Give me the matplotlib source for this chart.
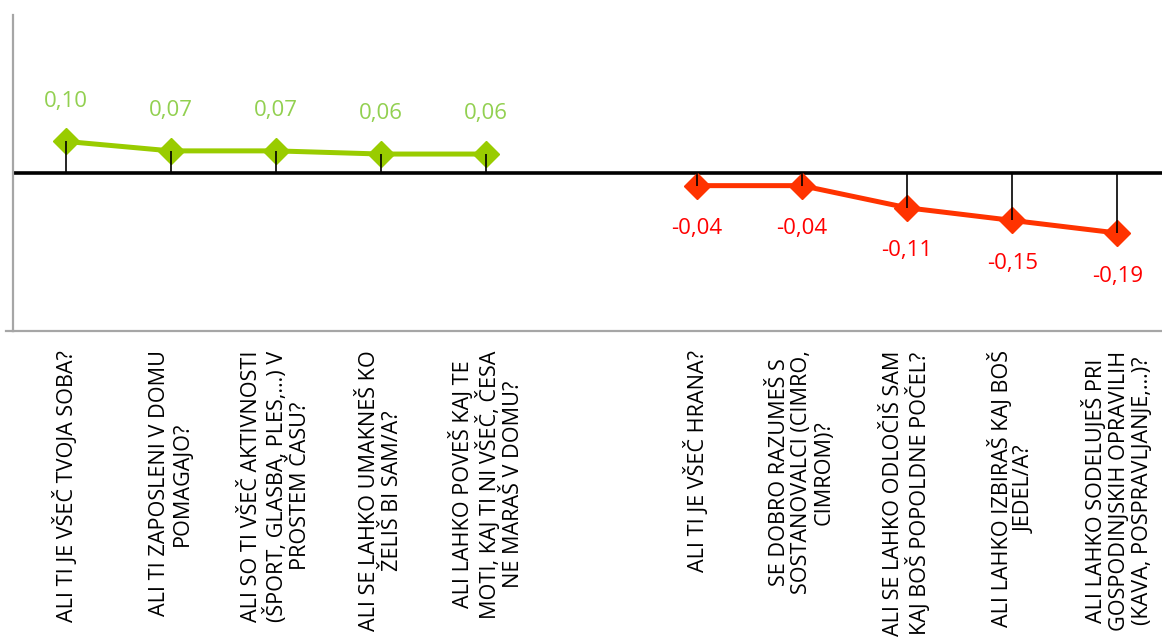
import matplotlib
matplotlib.use("Agg")
import matplotlib.pyplot as plt
from matplotlib.lines import Line2D
import numpy as np

plt.rcParams['font.family'] = ['Open Sans', 'DejaVu Sans']

# kategorije (prazno mesto med obema skupinama)
questions = [
    "ALI TI JE VŠEČ TVOJA SOBA?",
    "ALI TI ZAPOSLENI V DOMU\nPOMAGAJO?",
    "ALI SO TI VŠEČ AKTIVNOSTI\n(ŠPORT, GLASBA, PLES,…) V\nPROSTEM ČASU?",
    "ALI SE LAHKO UMAKNEŠ KO\nŽELIŠ BI SAM/A?",
    "ALI LAHKO POVEŠ KAJ TE\nMOTI, KAJ TI NI VŠEČ, ČESA\nNE MARAŠ V DOMU?",
    "",
    "ALI TI JE VŠEČ HRANA?",
    "SE DOBRO RAZUMEŠ S\nSOSTANOVALCI (CIMRO,\nCIMROM)?",
    "ALI SE LAHKO ODLOČIŠ SAM\nKAJ BOŠ POPOLDNE POČEL?",
    "ALI LAHKO IZBIRAŠ KAJ BOŠ\nJEDEL/A?",
    "ALI LAHKO SODELUJEŠ PRI\nGOSPODINJSKIH OPRAVILIH\n(KAVA, POSPRAVLJANJE,…)?",
]

pos_idx = [0, 1, 2, 3, 4]
pos_vals = [0.10, 0.07, 0.07, 0.06, 0.06]
neg_idx = [6, 7, 8, 9, 10]
neg_vals = [-0.04, -0.04, -0.11, -0.15, -0.19]

green_line = "#99CC00"
green_text = "#92D050"
red_line = "#FF3300"
red_text = "#FF0000"

fig = plt.figure(figsize=(11.62, 6.37), dpi=100)
ax = fig.add_axes([13 / 1162, 306 / 637, 1157 / 1162, 316 / 637])

ax.axhline(0, color='black', lw=2.6, zorder=2)

ax.plot(pos_idx, pos_vals, color=green_line, lw=3.6, marker='D', markersize=13,
        zorder=3)
ax.plot(neg_idx, neg_vals, color=red_line, lw=3.6, marker='D', markersize=13,
        zorder=3)

# navpične črte do osi
ax.vlines(pos_idx, 0, pos_vals, color='black', lw=1.2, zorder=4)
ax.vlines(neg_idx, 0, neg_vals, color='black', lw=1.2, zorder=4)

for i, v in zip(pos_idx, pos_vals):
    ax.annotate(f'{v:.2f}'.replace('.', ','), (i, v), textcoords='offset points',
                xytext=(0, 29), ha='center', va='center', fontsize=16, color=green_text)
for i, v in zip(neg_idx, neg_vals):
    ax.annotate(f'{v:.2f}'.replace('.', ','), (i, v), textcoords='offset points',
                xytext=(0, -31), ha='center', va='center', fontsize=16, color=red_text)

ax.set_xlim(-0.5, len(questions) - 0.5)
ax.set_ylim(-0.5, 0.5)
ax.set_yticks([])
ax.set_xticks(np.arange(len(questions)))
ax.set_xticklabels(questions, rotation=90, fontsize=15.6, va='top', ha='center',
                   multialignment='center', linespacing=1.1)
ax.tick_params(axis='x', length=0, pad=14)

for s in ['top', 'right']:
    ax.spines[s].set_visible(False)
for s in ['left', 'bottom']:
    ax.spines[s].set_color('#A6A6A6')
    ax.spines[s].set_linewidth(1.6)

# kratek podaljšek osi levo
fig.add_artist(Line2D([6 / 1162, 13 / 1162], [306 / 637, 306 / 637],
                      color='#A6A6A6', lw=1.6))

plt.savefig('out.png', dpi=100)
